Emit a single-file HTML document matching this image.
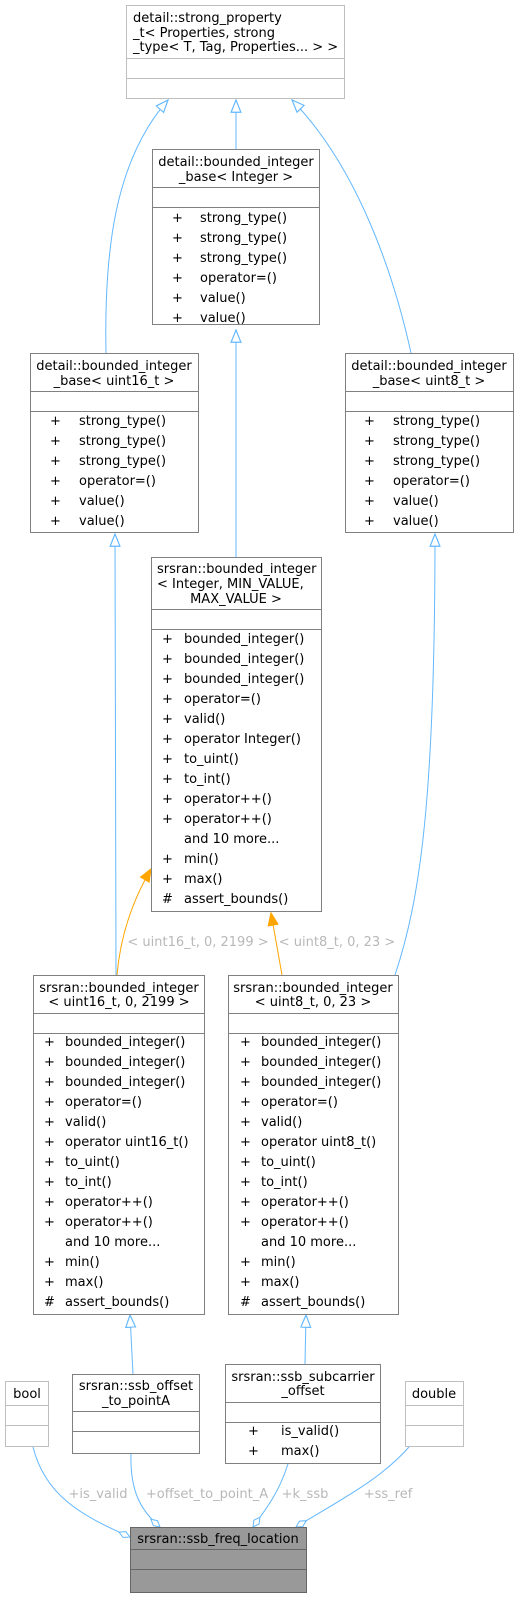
<!DOCTYPE html>
<html><head><meta charset="utf-8"><style>
html,body{margin:0;padding:0;background:#fff;}
svg{display:block;}
text{font-family:"DejaVu Sans","Liberation Sans",sans-serif;font-size:13px;fill:#000;}
.lb{fill:#b8b8b8;}
</style></head><body>
<svg width="519" height="1597" viewBox="0 0 519 1597" xmlns="http://www.w3.org/2000/svg">
<defs>
<marker id="tri" markerUnits="userSpaceOnUse" markerWidth="14" markerHeight="14" refX="11" refY="5" orient="auto" viewBox="0 0 12 10">
<path d="M0.5,0.8 L11,5 L0.5,9.2 Z" fill="#fff" stroke="#63b8ff" stroke-width="1"/>
</marker>
<marker id="otri" markerUnits="userSpaceOnUse" markerWidth="14" markerHeight="14" refX="11" refY="5" orient="auto" viewBox="0 0 12 10">
<path d="M0.5,0.8 L11,5 L0.5,9.2 Z" fill="#ffa500" stroke="#ffa500" stroke-width="1"/>
</marker>
<marker id="dia" markerUnits="userSpaceOnUse" markerWidth="14" markerHeight="10" refX="12.5" refY="4" orient="auto" viewBox="0 0 14 8">
<path d="M0.5,4 L6.5,0.8 L12.5,4 L6.5,7.2 Z" fill="#fff" stroke="#63b8ff" stroke-width="1"/>
</marker>
</defs>
<g fill="none" stroke="#63b8ff" stroke-width="1">
<path d="M106,353 C104,250 115,160 168,100" marker-end="url(#tri)"/>
<path d="M236,149 L236,100" marker-end="url(#tri)"/>
<path d="M411,353 C395,280 360,170 292,100" marker-end="url(#tri)"/>
<path d="M236,557 L236,330" marker-end="url(#tri)"/>
<path d="M116,975 L115,534" marker-end="url(#tri)"/>
<path d="M395,975 C420,900 435,800 435,534" marker-end="url(#tri)"/>
<path d="M133,1374 L130,1315" marker-end="url(#tri)"/>
<path d="M305,1364 L306,1315" marker-end="url(#tri)"/>
<path d="M33,1447 C45,1495 80,1515 130,1537" marker-end="url(#dia)"/>
<path d="M131,1454 C130,1490 140,1510 160,1527" marker-end="url(#dia)"/>
<path d="M288,1464 C278,1495 265,1510 253,1527" marker-end="url(#dia)"/>
<path d="M409,1447 C380,1480 340,1500 296,1527" marker-end="url(#dia)"/>
</g>
<g fill="none" stroke="#ffa500" stroke-width="1">
<path d="M117,975 C120,940 130,905 151,869" marker-end="url(#otri)"/>
<path d="M282,975 L271,913" marker-end="url(#otri)"/>
</g>
<text class="lb" x="198" y="946" text-anchor="middle">&lt; uint16_t, 0, 2199 &gt;</text>
<text class="lb" x="337" y="946" text-anchor="middle">&lt; uint8_t, 0, 23 &gt;</text>
<text class="lb" x="98" y="1498" text-anchor="middle">+is_valid</text>
<text class="lb" x="207" y="1498" text-anchor="middle">+offset_to_point_A</text>
<text class="lb" x="305" y="1498" text-anchor="middle">+k_ssb</text>
<text class="lb" x="388" y="1498" text-anchor="middle">+ss_ref</text>

<g stroke="#bfbfbf" fill="#fff"><rect x="126.5" y="5.5" width="218" height="93"/><line x1="126" y1="58.5" x2="345" y2="58.5"/><line x1="126" y1="78.5" x2="345" y2="78.5"/></g>
<text x="133" y="22">detail::strong_property</text>
<text x="133" y="37">_t&lt; Properties, strong</text>
<text x="133" y="51">_type&lt; T, Tag, Properties... &gt; &gt;</text>

<g stroke="#808080" fill="#fff"><rect x="152.5" y="149.5" width="167" height="175"/><line x1="152" y1="187.5" x2="320" y2="187.5"/><line x1="152" y1="207.5" x2="320" y2="207.5"/></g>
<text x="236" y="166" text-anchor="middle">detail::bounded_integer</text>
<text x="236" y="181" text-anchor="middle">_base&lt; Integer &gt;</text>
<g><text x="172" y="222">+</text><text x="200" y="222">strong_type()</text>
<text x="172" y="242">+</text><text x="200" y="242">strong_type()</text>
<text x="172" y="262">+</text><text x="200" y="262">strong_type()</text>
<text x="172" y="282">+</text><text x="200" y="282">operator=()</text>
<text x="172" y="302">+</text><text x="200" y="302">value()</text>
<text x="172" y="322">+</text><text x="200" y="322">value()</text></g>

<g stroke="#808080" fill="#fff"><rect x="30.5" y="353.5" width="168" height="179"/><line x1="30" y1="391.5" x2="199" y2="391.5"/><line x1="30" y1="411.5" x2="199" y2="411.5"/></g>
<text x="114" y="370" text-anchor="middle">detail::bounded_integer</text>
<text x="114" y="385" text-anchor="middle">_base&lt; uint16_t  &gt;</text>
<text x="50" y="425">+</text><text x="79" y="425">strong_type()</text>
<text x="50" y="445">+</text><text x="79" y="445">strong_type()</text>
<text x="50" y="465">+</text><text x="79" y="465">strong_type()</text>
<text x="50" y="485">+</text><text x="79" y="485">operator=()</text>
<text x="50" y="505">+</text><text x="79" y="505">value()</text>
<text x="50" y="525">+</text><text x="79" y="525">value()</text>

<g stroke="#808080" fill="#fff"><rect x="345.5" y="353.5" width="168" height="179"/><line x1="345" y1="391.5" x2="514" y2="391.5"/><line x1="345" y1="411.5" x2="514" y2="411.5"/></g>
<text x="429" y="370" text-anchor="middle">detail::bounded_integer</text>
<text x="429" y="385" text-anchor="middle">_base&lt; uint8_t  &gt;</text>
<text x="364" y="425">+</text><text x="393" y="425">strong_type()</text>
<text x="364" y="445">+</text><text x="393" y="445">strong_type()</text>
<text x="364" y="465">+</text><text x="393" y="465">strong_type()</text>
<text x="364" y="485">+</text><text x="393" y="485">operator=()</text>
<text x="364" y="505">+</text><text x="393" y="505">value()</text>
<text x="364" y="525">+</text><text x="393" y="525">value()</text>

<g stroke="#808080" fill="#fff"><rect x="151.5" y="557.5" width="170" height="354"/><line x1="151" y1="609.5" x2="322" y2="609.5"/><line x1="151" y1="629.5" x2="322" y2="629.5"/></g>
<text x="157" y="573">srsran::bounded_integer</text>
<text x="157" y="588">&lt; Integer, MIN_VALUE,</text>
<text x="236" y="603" text-anchor="middle">MAX_VALUE &gt;</text>
<g>
<text x="162" y="643">+</text><text x="184" y="643">bounded_integer()</text>
<text x="162" y="663">+</text><text x="184" y="663">bounded_integer()</text>
<text x="162" y="683">+</text><text x="184" y="683">bounded_integer()</text>
<text x="162" y="703">+</text><text x="184" y="703">operator=()</text>
<text x="162" y="723">+</text><text x="184" y="723">valid()</text>
<text x="162" y="743">+</text><text x="184" y="743">operator Integer()</text>
<text x="162" y="763">+</text><text x="184" y="763">to_uint()</text>
<text x="162" y="783">+</text><text x="184" y="783">to_int()</text>
<text x="162" y="803">+</text><text x="184" y="803">operator++()</text>
<text x="162" y="823">+</text><text x="184" y="823">operator++()</text>
<text x="184" y="843">and 10 more...</text>
<text x="162" y="863">+</text><text x="184" y="863">min()</text>
<text x="162" y="883">+</text><text x="184" y="883">max()</text>
<text x="162" y="903">#</text><text x="184" y="903">assert_bounds()</text>
</g>

<g stroke="#808080" fill="#fff"><rect x="33.5" y="975.5" width="171" height="339"/><line x1="33" y1="1013.5" x2="205" y2="1013.5"/><line x1="33" y1="1033.5" x2="205" y2="1033.5"/></g>
<text x="119" y="992" text-anchor="middle">srsran::bounded_integer</text>
<text x="119" y="1006" text-anchor="middle">&lt; uint16_t, 0, 2199 &gt;</text>
<g>
<text x="44" y="1046">+</text><text x="65" y="1046">bounded_integer()</text>
<text x="44" y="1066">+</text><text x="65" y="1066">bounded_integer()</text>
<text x="44" y="1086">+</text><text x="65" y="1086">bounded_integer()</text>
<text x="44" y="1106">+</text><text x="65" y="1106">operator=()</text>
<text x="44" y="1126">+</text><text x="65" y="1126">valid()</text>
<text x="44" y="1146">+</text><text x="65" y="1146">operator uint16_t()</text>
<text x="44" y="1166">+</text><text x="65" y="1166">to_uint()</text>
<text x="44" y="1186">+</text><text x="65" y="1186">to_int()</text>
<text x="44" y="1206">+</text><text x="65" y="1206">operator++()</text>
<text x="44" y="1226">+</text><text x="65" y="1226">operator++()</text>
<text x="65" y="1246">and 10 more...</text>
<text x="44" y="1266">+</text><text x="65" y="1266">min()</text>
<text x="44" y="1286">+</text><text x="65" y="1286">max()</text>
<text x="44" y="1306">#</text><text x="65" y="1306">assert_bounds()</text>
</g>

<g stroke="#808080" fill="#fff"><rect x="228.5" y="975.5" width="170" height="339"/><line x1="228" y1="1013.5" x2="399" y2="1013.5"/><line x1="228" y1="1033.5" x2="399" y2="1033.5"/></g>
<text x="313" y="992" text-anchor="middle">srsran::bounded_integer</text>
<text x="313" y="1006" text-anchor="middle">&lt; uint8_t, 0, 23 &gt;</text>
<g>
<text x="240" y="1046">+</text><text x="261" y="1046">bounded_integer()</text>
<text x="240" y="1066">+</text><text x="261" y="1066">bounded_integer()</text>
<text x="240" y="1086">+</text><text x="261" y="1086">bounded_integer()</text>
<text x="240" y="1106">+</text><text x="261" y="1106">operator=()</text>
<text x="240" y="1126">+</text><text x="261" y="1126">valid()</text>
<text x="240" y="1146">+</text><text x="261" y="1146">operator uint8_t()</text>
<text x="240" y="1166">+</text><text x="261" y="1166">to_uint()</text>
<text x="240" y="1186">+</text><text x="261" y="1186">to_int()</text>
<text x="240" y="1206">+</text><text x="261" y="1206">operator++()</text>
<text x="240" y="1226">+</text><text x="261" y="1226">operator++()</text>
<text x="261" y="1246">and 10 more...</text>
<text x="240" y="1266">+</text><text x="261" y="1266">min()</text>
<text x="240" y="1286">+</text><text x="261" y="1286">max()</text>
<text x="240" y="1306">#</text><text x="261" y="1306">assert_bounds()</text>
</g>

<g stroke="#bfbfbf" fill="#fff"><rect x="5.5" y="1381.5" width="43" height="65"/><line x1="5" y1="1405.5" x2="49" y2="1405.5"/><line x1="5" y1="1425.5" x2="49" y2="1425.5"/></g>
<text x="27" y="1398" text-anchor="middle">bool</text>

<g stroke="#808080" fill="#fff"><rect x="72.5" y="1374.5" width="127" height="79"/><line x1="72" y1="1411.5" x2="200" y2="1411.5"/><line x1="72" y1="1431.5" x2="200" y2="1431.5"/></g>
<text x="136" y="1390" text-anchor="middle">srsran::ssb_offset</text>
<text x="136" y="1405" text-anchor="middle">_to_pointA</text>

<g stroke="#808080" fill="#fff"><rect x="225.5" y="1364.5" width="155" height="99"/><line x1="225" y1="1402.5" x2="381" y2="1402.5"/><line x1="225" y1="1422.5" x2="381" y2="1422.5"/></g>
<text x="303" y="1381" text-anchor="middle">srsran::ssb_subcarrier</text>
<text x="303" y="1395" text-anchor="middle">_offset</text>
<text x="248" y="1435">+</text><text x="281" y="1435">is_valid()</text>
<text x="248" y="1455">+</text><text x="281" y="1455">max()</text>

<g stroke="#bfbfbf" fill="#fff"><rect x="405.5" y="1381.5" width="58" height="65"/><line x1="405" y1="1405.5" x2="464" y2="1405.5"/><line x1="405" y1="1425.5" x2="464" y2="1425.5"/></g>
<text x="434" y="1398" text-anchor="middle">double</text>

<g stroke="#666" fill="#999"><rect x="130.5" y="1527.5" width="176" height="65"/><line x1="130" y1="1549.5" x2="307" y2="1549.5"/><line x1="130" y1="1569.5" x2="307" y2="1569.5"/></g>
<text x="218" y="1543" text-anchor="middle">srsran::ssb_freq_location</text>
</svg>
</body></html>
